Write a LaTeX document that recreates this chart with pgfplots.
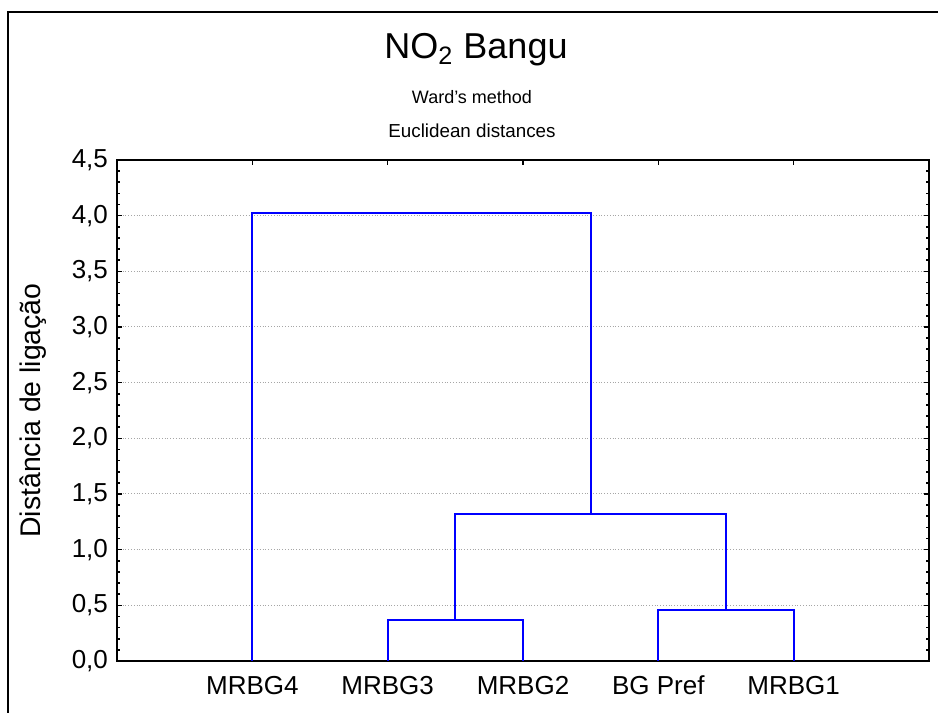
\documentclass[border=0pt]{standalone}
\usepackage{pgfplots}
\pgfplotsset{compat=1.18}
\usepackage{fontspec}
\setmainfont{Liberation Sans}
\begin{document}
\begin{tikzpicture}
\begin{axis}[
  name=ax,
  scale only axis,
  width=406pt, height=250.5pt,
  xmin=0, xmax=6, ymin=0, ymax=4.5,
  xtick={1,2,3,4,5},
  xticklabels={MRBG4,MRBG3,MRBG2,BG Pref,MRBG1},
  ytick={0,0.5,...,4.5},
  minor y tick num=4,
  tick align=inside,
  major tick length=2.5pt,
  minor tick length=1.5pt,
  every tick/.style={black, line width=0.8pt},
  ymajorgrids,
  major grid style={densely dotted, black!35, line width=0.5pt},
  axis line style={black, line width=1pt},
  ticklabel style={font=\fontsize{13}{15}\selectfont},
  xticklabel style={yshift=-4pt},
  yticklabel style={xshift=-1pt},
  /pgf/number format/.cd, fixed, fixed zerofill, precision=1, use comma, assume math mode=true,
  /pgfplots/.cd,
  ylabel={Distância de ligação},
  ylabel style={font=\fontsize{14.2}{16}\selectfont, at={(axis description cs:-0.1034,0.5)}, anchor=center},
  clip=false,
]
\addplot[blue, line width=1pt] coordinates {(2,0) (2,0.37) (3,0.37) (3,0)};
\addplot[blue, line width=1pt] coordinates {(4,0) (4,0.46) (5,0.46) (5,0)};
\addplot[blue, line width=1pt] coordinates {(2.5,0.37) (2.5,1.32) (4.5,1.32) (4.5,0.46)};
\addplot[blue, line width=1pt] coordinates {(1,0) (1,4.02) (3.5,4.02) (3.5,1.32)};
\end{axis}
\coordinate (BL) at ([shift={(-58.5pt,-26pt)}]ax.south west);
\coordinate (TR) at ([shift={(4.5pt,80pt)}]ax.north east);
\coordinate (TL) at ([shift={(-58.5pt,80pt)}]ax.north west);
\draw[line width=1pt] ([xshift=4pt]BL) |- ([yshift=-6pt]TR);
\node[font=\fontsize{18}{20}\selectfont] at ([shift={(238pt,-25pt)}]TL) {NO\textsubscript{2} Bangu};
\node[font=\fontsize{9}{11}\selectfont] at ([shift={(236pt,-48.5pt)}]TL) {Ward's method};
\node[font=\fontsize{9.4}{11}\selectfont] at ([shift={(236pt,-65.5pt)}]TL) {Euclidean distances};
\pgfresetboundingbox
\path (BL) rectangle (TR);
\end{tikzpicture}
\end{document}
